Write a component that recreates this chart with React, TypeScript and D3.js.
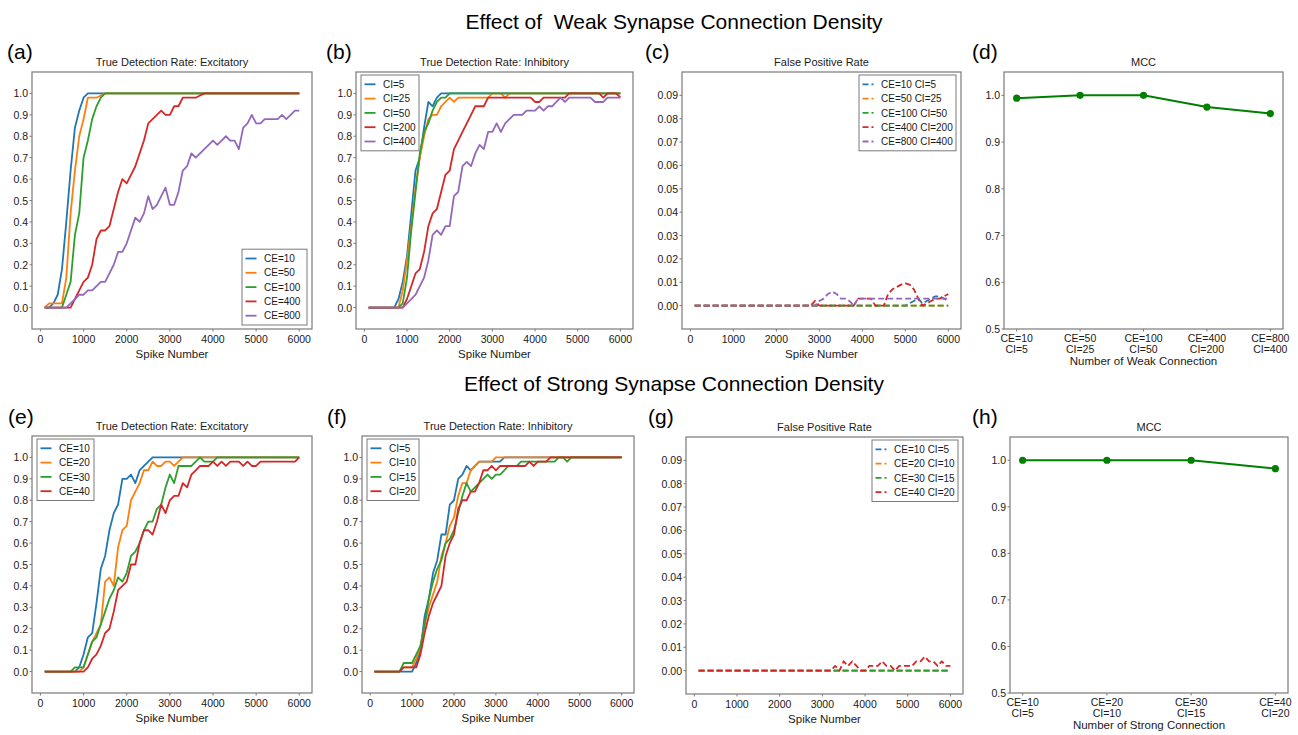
import React from "react";
import * as d3 from "d3";

// spike counts on the x axis (every 100 spikes)
const spikeNumbers = [
  100, 200, 300, 400, 500, 600, 700, 800, 900, 1000,
  1100, 1200, 1300, 1400, 1500, 1600, 1700, 1800, 1900, 2000,
  2100, 2200, 2300, 2400, 2500, 2600, 2700, 2800, 2900, 3000,
  3100, 3200, 3300, 3400, 3500, 3600, 3700, 3800, 3900, 4000,
  4100, 4200, 4300, 4400, 4500, 4600, 4700, 4800, 4900, 5000,
  5100, 5200, 5300, 5400, 5500, 5600, 5700, 5800, 5900, 6000,
];

const spikeTicks = [0, 1000, 2000, 3000, 4000, 5000, 6000];
const tdrTicks = [0, 0.1, 0.2, 0.3, 0.4, 0.5, 0.6, 0.7, 0.8, 0.9, 1.0];
const fprTicks = [0, 0.01, 0.02, 0.03, 0.04, 0.05, 0.06, 0.07, 0.08, 0.09];
const mccTicks = [0.5, 0.6, 0.7, 0.8, 0.9, 1.0];

// (a) weak, excitatory true detection rate
const weakExcCE10 = [
  0, 0, 0.02, 0.06, 0.18, 0.4, 0.64, 0.84, 0.92, 0.98,
  1, 1, 1, 1, 1, 1, 1, 1, 1, 1,
  1, 1, 1, 1, 1, 1, 1, 1, 1, 1,
  1, 1, 1, 1, 1, 1, 1, 1, 1, 1,
  1, 1, 1, 1, 1, 1, 1, 1, 1, 1,
  1, 1, 1, 1, 1, 1, 1, 1, 1, 1,
];
const weakExcCE50 = [
  0, 0.02, 0.02, 0.02, 0.02, 0.14, 0.44, 0.64, 0.8, 0.88,
  0.98, 0.98, 0.98, 0.99, 1, 1, 1, 1, 1, 1,
  1, 1, 1, 1, 1, 1, 1, 1, 1, 1,
  1, 1, 1, 1, 1, 1, 1, 1, 1, 1,
  1, 1, 1, 1, 1, 1, 1, 1, 1, 1,
  1, 1, 1, 1, 1, 1, 1, 1, 1, 1,
];
const weakExcCE100 = [
  0, 0, 0, 0, 0, 0.06, 0.12, 0.34, 0.44, 0.7,
  0.78, 0.88, 0.94, 0.98, 1, 1, 1, 1, 1, 1,
  1, 1, 1, 1, 1, 1, 1, 1, 1, 1,
  1, 1, 1, 1, 1, 1, 1, 1, 1, 1,
  1, 1, 1, 1, 1, 1, 1, 1, 1, 1,
  1, 1, 1, 1, 1, 1, 1, 1, 1, 1,
];
const weakExcCE400 = [
  0, 0, 0, 0, 0, 0, 0, 0.04, 0.08, 0.12,
  0.14, 0.2, 0.32, 0.36, 0.36, 0.38, 0.46, 0.54, 0.6, 0.58,
  0.62, 0.66, 0.72, 0.78, 0.86, 0.88, 0.9, 0.92, 0.9, 0.9,
  0.94, 0.94, 0.98, 0.98, 0.98, 0.98, 0.99, 1, 1, 1,
  1, 1, 1, 1, 1, 1, 1, 1, 1, 1,
  1, 1, 1, 1, 1, 1, 1, 1, 1, 1,
];
const weakExcCE800 = [
  0, 0, 0, 0, 0, 0, 0.02, 0.04, 0.06, 0.06,
  0.08, 0.08, 0.1, 0.12, 0.12, 0.16, 0.2, 0.26, 0.26, 0.3,
  0.36, 0.42, 0.4, 0.44, 0.52, 0.46, 0.48, 0.52, 0.56, 0.48,
  0.48, 0.54, 0.64, 0.66, 0.72, 0.7, 0.72, 0.74, 0.76, 0.78,
  0.76, 0.78, 0.8, 0.78, 0.78, 0.74, 0.84, 0.86, 0.9, 0.86,
  0.86, 0.88, 0.88, 0.88, 0.88, 0.9, 0.88, 0.9, 0.92, 0.92,
];

// (b) weak, inhibitory true detection rate
const weakInhCI5 = [
  0, 0, 0, 0, 0, 0, 0, 0.04, 0.12, 0.24,
  0.44, 0.64, 0.7, 0.84, 0.96, 0.94, 0.98, 1, 1, 1,
  1, 1, 1, 1, 1, 1, 1, 1, 1, 1,
  1, 1, 1, 1, 1, 1, 1, 1, 1, 1,
  1, 1, 1, 1, 1, 1, 1, 1, 1, 1,
  1, 1, 1, 1, 1, 1, 1, 1, 1, 1,
];
const weakInhCI25 = [
  0, 0, 0, 0, 0, 0, 0, 0, 0.08, 0.22,
  0.38, 0.56, 0.7, 0.8, 0.88, 0.9, 0.9, 0.94, 0.96, 0.98,
  0.96, 0.98, 0.98, 0.98, 0.98, 0.98, 0.98, 0.98, 0.98, 1,
  1, 1, 0.98, 1, 1, 1, 1, 1, 1, 1,
  1, 1, 1, 1, 1, 1, 1, 1, 1, 1,
  1, 1, 1, 1, 1, 1, 1, 1, 1, 1,
];
const weakInhCI50 = [
  0, 0, 0, 0, 0, 0, 0, 0, 0.02, 0.14,
  0.36, 0.54, 0.72, 0.82, 0.86, 0.92, 0.96, 0.98, 0.98, 1,
  1, 1, 1, 1, 1, 1, 1, 1, 1, 1,
  1, 1, 1, 1, 1, 1, 1, 1, 1, 1,
  1, 1, 1, 1, 1, 1, 1, 1, 1, 1,
  1, 1, 1, 1, 1, 1, 1, 1, 1, 1,
];
const weakInhCI200 = [
  0, 0, 0, 0, 0, 0, 0, 0, 0, 0.04,
  0.1, 0.16, 0.18, 0.26, 0.38, 0.44, 0.46, 0.54, 0.62, 0.64,
  0.74, 0.78, 0.82, 0.86, 0.9, 0.94, 0.94, 0.94, 0.98, 0.98,
  0.98, 0.98, 0.98, 0.98, 0.98, 0.98, 0.98, 0.98, 0.98, 0.96,
  0.96, 0.98, 0.98, 0.98, 0.98, 0.98, 0.98, 1, 1, 1,
  1, 1, 1, 1, 1, 0.98, 1, 1, 1, 0.98,
];
const weakInhCI400 = [
  0, 0, 0, 0, 0, 0, 0, 0, 0, 0.02,
  0.04, 0.06, 0.1, 0.14, 0.22, 0.34, 0.36, 0.34, 0.38, 0.38,
  0.52, 0.54, 0.66, 0.68, 0.66, 0.72, 0.76, 0.74, 0.82, 0.82,
  0.86, 0.82, 0.86, 0.88, 0.9, 0.9, 0.9, 0.92, 0.92, 0.92,
  0.94, 0.92, 0.94, 0.94, 0.96, 0.98, 0.96, 0.98, 0.98, 0.98,
  0.98, 0.98, 0.98, 0.96, 0.96, 0.96, 0.98, 0.98, 0.98, 0.98,
];

// (c) weak, false positive rate
const weakFprCE10 = [
  0, 0, 0, 0, 0, 0, 0, 0, 0, 0,
  0, 0, 0, 0, 0, 0, 0, 0, 0, 0,
  0, 0, 0, 0, 0, 0, 0, 0, 0, 0,
  0, 0, 0, 0, 0, 0, 0, 0, 0, 0,
  0, 0, 0, 0, 0, 0, 0, 0, 0, 0,
  0.001, 0.002, 0.003, 0.001, 0.002, 0.003, 0.004, 0.004, 0.003, 0.002,
];
const weakFprCE50 = [
  0, 0, 0, 0, 0, 0, 0, 0, 0, 0,
  0, 0, 0, 0, 0, 0, 0, 0, 0, 0,
  0, 0, 0, 0, 0, 0, 0, 0, 0, 0,
  0, 0, 0, 0, 0, 0, 0, 0, 0, 0,
  0, 0, 0, 0, 0, 0, 0, 0, 0, 0,
  0, 0, 0, 0, 0, 0, 0, 0, 0, 0,
];
const weakFprCE100 = [
  0, 0, 0, 0, 0, 0, 0, 0, 0, 0,
  0, 0, 0, 0, 0, 0, 0, 0, 0, 0,
  0, 0, 0, 0, 0, 0, 0, 0, 0, 0,
  0, 0, 0, 0, 0, 0, 0, 0, 0, 0,
  0, 0, 0, 0, 0, 0, 0, 0, 0, 0,
  0, 0, 0, 0, 0, 0, 0, 0, 0, 0,
];
const weakFprCE400 = [
  0, 0, 0, 0, 0, 0, 0, 0, 0, 0,
  0, 0, 0, 0, 0, 0, 0, 0, 0, 0,
  0, 0, 0, 0, 0, 0, 0, 0, 0.002, 0,
  0, 0, 0, 0, 0, 0, 0, 0, 0.003, 0.003,
  0.003, 0.003, 0, 0, 0, 0.005, 0.007, 0.008, 0.009, 0.0095,
  0.009, 0.007, 0.003, 0, 0.001, 0.002, 0.003, 0.003, 0.004, 0.005,
];
const weakFprCE800 = [
  0, 0, 0, 0, 0, 0, 0, 0, 0, 0,
  0, 0, 0, 0, 0, 0, 0, 0, 0, 0,
  0, 0, 0, 0, 0, 0, 0, 0, 0, 0.002,
  0.003, 0.005, 0.006, 0.005, 0.003, 0.003, 0.002, 0, 0.003, 0.003,
  0.003, 0.003, 0.003, 0.003, 0.003, 0.003, 0.003, 0.003, 0.003, 0.003,
  0.003, 0.003, 0.003, 0.003, 0.003, 0.003, 0.003, 0.003, 0.003, 0.003,
];

// (d) weak MCC
const weakConnLabels = [
  ["CE=10", "CI=5"],
  ["CE=50", "CI=25"],
  ["CE=100", "CI=50"],
  ["CE=400", "CI=200"],
  ["CE=800", "CI=400"],
];
const weakMcc = [0.994, 1.0, 1.0, 0.975, 0.961];

// (e) strong, excitatory true detection rate
const strongExcCE10 = [
  0, 0, 0, 0, 0, 0, 0, 0, 0.02, 0.08,
  0.16, 0.18, 0.32, 0.48, 0.54, 0.66, 0.74, 0.78, 0.9, 0.9,
  0.92, 0.88, 0.94, 0.96, 0.98, 1, 1, 1, 1, 1,
  1, 1, 1, 1, 1, 1, 1, 1, 1, 1,
  1, 1, 1, 1, 1, 1, 1, 1, 1, 1,
  1, 1, 1, 1, 1, 1, 1, 1, 1, 1,
];
const strongExcCE20 = [
  0, 0, 0, 0, 0, 0, 0, 0, 0, 0.02,
  0.08, 0.14, 0.18, 0.22, 0.42, 0.44, 0.4, 0.58, 0.66, 0.68,
  0.8, 0.84, 0.88, 0.94, 0.94, 0.98, 0.96, 0.96, 0.98, 0.98,
  0.96, 0.98, 1, 1, 1, 1, 1, 1, 1, 1,
  1, 1, 1, 1, 1, 1, 1, 1, 1, 1,
  1, 1, 1, 1, 1, 1, 1, 1, 1, 1,
];
const strongExcCE30 = [
  0, 0, 0, 0, 0, 0, 0, 0.02, 0.02, 0.02,
  0.08, 0.14, 0.16, 0.22, 0.28, 0.34, 0.38, 0.44, 0.42, 0.46,
  0.54, 0.56, 0.6, 0.66, 0.7, 0.7, 0.76, 0.78, 0.86, 0.92,
  0.88, 0.96, 0.96, 0.96, 0.96, 0.98, 1, 0.98, 0.98, 0.98,
  1, 1, 1, 1, 1, 1, 1, 1, 1, 1,
  1, 1, 1, 1, 1, 1, 1, 1, 1, 1,
];
const strongExcCE40 = [
  0, 0, 0, 0, 0, 0, 0, 0, 0, 0,
  0.02, 0.06, 0.08, 0.12, 0.18, 0.2, 0.28, 0.38, 0.4, 0.42,
  0.5, 0.5, 0.6, 0.66, 0.66, 0.64, 0.7, 0.78, 0.74, 0.8,
  0.82, 0.82, 0.88, 0.86, 0.92, 0.94, 0.96, 0.96, 0.96, 0.98,
  0.96, 0.98, 0.96, 0.98, 0.98, 0.98, 0.96, 0.98, 0.96, 0.96,
  0.98, 0.98, 0.98, 0.98, 0.98, 0.98, 0.98, 0.98, 0.98, 1,
];

// (f) strong, inhibitory true detection rate
const strongInhCI5 = [
  0, 0, 0, 0, 0, 0, 0, 0, 0, 0,
  0.04, 0.1, 0.26, 0.34, 0.46, 0.52, 0.64, 0.64, 0.78, 0.8,
  0.9, 0.92, 0.96, 0.94, 0.96, 0.98, 0.98, 0.98, 0.98, 0.98,
  0.98, 1, 1, 1, 1, 1, 1, 1, 1, 1,
  1, 1, 1, 1, 1, 1, 1, 1, 1, 1,
  1, 1, 1, 1, 1, 1, 1, 1, 1, 1,
];
const strongInhCI10 = [
  0, 0, 0, 0, 0, 0, 0, 0.02, 0.02, 0.02,
  0.06, 0.12, 0.22, 0.3, 0.36, 0.42, 0.54, 0.6, 0.68, 0.72,
  0.82, 0.88, 0.88, 0.94, 0.96, 0.98, 0.98, 0.98, 0.98, 1,
  1, 1, 1, 1, 1, 1, 1, 1, 1, 1,
  1, 1, 1, 1, 1, 1, 1, 1, 1, 1,
  1, 1, 1, 1, 1, 1, 1, 1, 1, 1,
];
const strongInhCI15 = [
  0, 0, 0, 0, 0, 0, 0, 0.04, 0.04, 0.04,
  0.08, 0.12, 0.22, 0.34, 0.42, 0.48, 0.52, 0.6, 0.62, 0.66,
  0.74, 0.82, 0.88, 0.84, 0.86, 0.88, 0.9, 0.92, 0.9, 0.92,
  0.92, 0.94, 0.96, 0.96, 0.96, 0.98, 0.98, 0.98, 0.98, 0.98,
  0.98, 0.98, 0.98, 0.98, 1, 1, 0.98, 1, 1, 1,
  1, 1, 1, 1, 1, 1, 1, 1, 1, 1,
];
const strongInhCI20 = [
  0, 0, 0, 0, 0, 0, 0, 0.02, 0.02, 0.02,
  0.02, 0.08, 0.18, 0.26, 0.32, 0.36, 0.4, 0.54, 0.6, 0.64,
  0.76, 0.8, 0.8, 0.84, 0.84, 0.88, 0.94, 0.94, 0.96, 0.94,
  0.96, 0.96, 0.96, 0.96, 0.96, 0.96, 0.96, 0.98, 0.96, 0.98,
  0.98, 0.98, 1, 1, 1, 1, 1, 1, 1, 1,
  1, 1, 1, 1, 1, 1, 1, 1, 1, 1,
];

// (g) strong, false positive rate
const strongFprZero = [
  0, 0, 0, 0, 0, 0, 0, 0, 0, 0,
  0, 0, 0, 0, 0, 0, 0, 0, 0, 0,
  0, 0, 0, 0, 0, 0, 0, 0, 0, 0,
  0, 0, 0, 0, 0, 0, 0, 0, 0, 0,
  0, 0, 0, 0, 0, 0, 0, 0, 0, 0,
  0, 0, 0, 0, 0, 0, 0, 0, 0, 0,
];
const strongFprCE40 = [
  0, 0, 0, 0, 0, 0, 0, 0, 0, 0,
  0, 0, 0, 0, 0, 0, 0, 0, 0, 0,
  0, 0, 0, 0, 0, 0, 0, 0, 0, 0,
  0, 0, 0.002, 0, 0.004, 0.002, 0.004, 0.002, 0, 0,
  0.002, 0.002, 0.002, 0.004, 0.002, 0.002, 0, 0.002, 0.002, 0.002,
  0.002, 0.004, 0.004, 0.006, 0.004, 0.004, 0.002, 0.004, 0.002, 0.002,
];

// (h) strong MCC
const strongConnLabels = [
  ["CE=10", "CI=5"],
  ["CE=20", "CI=10"],
  ["CE=30", "CI=15"],
  ["CE=40", "CI=20"],
];
const strongMcc = [1.0, 1.0, 1.0, 0.982];

const colors = ["#1f77b4", "#ff7f0e", "#2ca02c", "#d62728", "#9467bd"];
const FONT = "'Liberation Sans', Arial, Helvetica, sans-serif";
const FRAME = "#7a7a7a";
const TEXT = "#1a1a1a";

const spikePanels = [
  {
    tag: "(a)", tagX: 7, tagY: 59, title: "True Detection Rate: Excitatory", kind: "tdr",
    box: [32, 72, 312, 329], legend: { corner: "lr", width: 65 },
    series: [
      { label: "CE=10", values: weakExcCE10 },
      { label: "CE=50", values: weakExcCE50 },
      { label: "CE=100", values: weakExcCE100 },
      { label: "CE=400", values: weakExcCE400 },
      { label: "CE=800", values: weakExcCE800 },
    ],
  },
  {
    tag: "(b)", tagX: 326, tagY: 59, title: "True Detection Rate: Inhibitory", kind: "tdr",
    box: [356, 72, 633, 329], legend: { corner: "ul", width: 58 },
    series: [
      { label: "CI=5", values: weakInhCI5 },
      { label: "CI=25", values: weakInhCI25 },
      { label: "CI=50", values: weakInhCI50 },
      { label: "CI=200", values: weakInhCI200 },
      { label: "CI=400", values: weakInhCI400 },
    ],
  },
  {
    tag: "(c)", tagX: 645, tagY: 59, title: "False Positive Rate", kind: "fpr",
    box: [682, 72, 961, 329], legend: { corner: "ur", width: 97 },
    series: [
      { label: "CE=10 CI=5", values: weakFprCE10 },
      { label: "CE=50 CI=25", values: weakFprCE50 },
      { label: "CE=100 CI=50", values: weakFprCE100 },
      { label: "CE=400 CI=200", values: weakFprCE400 },
      { label: "CE=800 CI=400", values: weakFprCE800 },
    ],
  },
  {
    tag: "(e)", tagX: 8, tagY: 424, title: "True Detection Rate: Excitatory", kind: "tdr",
    box: [32, 436, 312, 693], legend: { corner: "ul", width: 57 },
    series: [
      { label: "CE=10", values: strongExcCE10 },
      { label: "CE=20", values: strongExcCE20 },
      { label: "CE=30", values: strongExcCE30 },
      { label: "CE=40", values: strongExcCE40 },
    ],
  },
  {
    tag: "(f)", tagX: 327, tagY: 424, title: "True Detection Rate: Inhibitory", kind: "tdr",
    box: [362, 436, 634, 693], legend: { corner: "ul", width: 52 },
    series: [
      { label: "CI=5", values: strongInhCI5 },
      { label: "CI=10", values: strongInhCI10 },
      { label: "CI=15", values: strongInhCI15 },
      { label: "CI=20", values: strongInhCI20 },
    ],
  },
  {
    tag: "(g)", tagX: 648, tagY: 424, title: "False Positive Rate", kind: "fpr",
    box: [686, 437, 963, 694], legend: { corner: "ur", width: 86 },
    series: [
      { label: "CE=10 CI=5", values: strongFprZero },
      { label: "CE=20 CI=10", values: strongFprZero },
      { label: "CE=30 CI=15", values: strongFprZero },
      { label: "CE=40 CI=20", values: strongFprCE40 },
    ],
  },
];

const mccPanels = [
  {
    tag: "(d)", tagX: 972, tagY: 59, box: [1004, 72, 1283, 329],
    labels: weakConnLabels, values: weakMcc, xLabel: "Number of Weak Connection",
  },
  {
    tag: "(h)", tagX: 972, tagY: 424, box: [1010, 437, 1288, 693],
    labels: strongConnLabels, values: strongMcc, xLabel: "Number of Strong Connection",
  },
];

function Legend({ series, corner, width, box, dashed }) {
  const [l, t, r, b] = box;
  const n = series.length;
  const h = 18.6 + (n - 1) * 14.3;
  const lx = corner === "ul" ? l + 5 : r - 5 - width;
  const ly = corner === "lr" ? b - 4 - h : t + 3;
  return (
    <g>
      <rect x={lx} y={ly} width={width} height={h} fill="#fff" stroke={FRAME} strokeWidth={1} />
      {series.map((s, i) => {
        const cy = ly + 9.3 + i * 14.3;
        return (
          <g key={s.label}>
            <line
              x1={lx + 3.5} x2={lx + 14.5} y1={cy} y2={cy}
              stroke={colors[i]} strokeWidth={1.8}
              strokeDasharray={dashed ? "6,3" : undefined}
            />
            <text x={lx + 22} y={cy + 3.6} fontSize={10} fill={TEXT}>{s.label}</text>
          </g>
        );
      })}
    </g>
  );
}

function SpikePanel({ p }) {
  const [l, t, r, b] = p.box;
  const x = d3.scaleLinear().domain([-195, 6295]).range([l, r]);
  const isTdr = p.kind === "tdr";
  const y = d3.scaleLinear().domain(isTdr ? [-0.1, 1.1] : [-0.01, 0.1]).range([b, t]);
  const yTicks = isTdr ? tdrTicks : fprTicks;
  const fmt = d3.format(isTdr ? ".1f" : ".2f");
  const line = d3
    .line<number>()
    .x((_, i) => x(spikeNumbers[i]))
    .y((v) => y(v));

  return (
    <g>
      <text x={p.tagX} y={p.tagY} fontSize={21} fill="#000">{p.tag}</text>
      <text x={(l + r) / 2} y={t - 6} fontSize={11} textAnchor="middle" fill={TEXT}>{p.title}</text>
      {p.series.map((s, i) => (
        <path
          key={s.label}
          d={line(s.values) || ""}
          fill="none"
          stroke={colors[i]}
          strokeWidth={1.8}
          strokeLinejoin="round"
          strokeDasharray={isTdr ? undefined : "6,3"}
        />
      ))}
      <rect x={l} y={t} width={r - l} height={b - t} fill="none" stroke={FRAME} strokeWidth={1.2} />
      {yTicks.map((v) => (
        <g key={v}>
          <line x1={l - 2.5} x2={l} y1={y(v)} y2={y(v)} stroke={FRAME} />
          <text x={l - 4} y={y(v) + 4} fontSize={10.5} textAnchor="end" fill={TEXT}>{fmt(v)}</text>
        </g>
      ))}
      {spikeTicks.map((v) => (
        <g key={v}>
          <line x1={x(v)} x2={x(v)} y1={b} y2={b + 2.5} stroke={FRAME} />
          <text x={x(v)} y={b + 14} fontSize={10.5} textAnchor="middle" fill={TEXT}>{v}</text>
        </g>
      ))}
      <text x={(l + r) / 2} y={b + 29} fontSize={11.5} textAnchor="middle" fill={TEXT}>Spike Number</text>
      <Legend series={p.series} corner={p.legend.corner} width={p.legend.width} box={p.box} dashed={!isTdr} />
    </g>
  );
}

function MccPanel({ p }) {
  const [l, t, r, b] = p.box;
  const n = p.values.length;
  const m = 0.05 * (n - 1);
  const x = d3.scaleLinear().domain([-m, n - 1 + m]).range([l, r]);
  const y = d3.scaleLinear().domain([0.5, 1.05]).range([b, t]);
  const line = d3
    .line<number>()
    .x((_, i) => x(i))
    .y((v) => y(v));

  return (
    <g>
      <text x={p.tagX} y={p.tagY} fontSize={21} fill="#000">{p.tag}</text>
      <text x={(l + r) / 2} y={t - 6} fontSize={11} textAnchor="middle" fill={TEXT}>MCC</text>
      <path d={line(p.values) || ""} fill="none" stroke="#008000" strokeWidth={2} />
      {p.values.map((v, i) => (
        <circle key={i} cx={x(i)} cy={y(v)} r={3.6} fill="#008000" />
      ))}
      <rect x={l} y={t} width={r - l} height={b - t} fill="none" stroke={FRAME} strokeWidth={1.2} />
      {mccTicks.map((v) => (
        <g key={v}>
          <line x1={l - 2.5} x2={l} y1={y(v)} y2={y(v)} stroke={FRAME} />
          <text x={l - 4} y={y(v) + 4} fontSize={10.5} textAnchor="end" fill={TEXT}>{d3.format(".1f")(v)}</text>
        </g>
      ))}
      {p.labels.map((lab, i) => (
        <g key={i}>
          <line x1={x(i)} x2={x(i)} y1={b} y2={b + 2.5} stroke={FRAME} />
          <text x={x(i)} y={b + 12.5} fontSize={10.5} textAnchor="middle" fill={TEXT}>{lab[0]}</text>
          <text x={x(i)} y={b + 24} fontSize={10.5} textAnchor="middle" fill={TEXT}>{lab[1]}</text>
        </g>
      ))}
      <text x={(l + r) / 2} y={b + 36} fontSize={11.5} textAnchor="middle" fill={TEXT}>{p.xLabel}</text>
    </g>
  );
}

export default function App() {
  return (
    <svg
      width={1298}
      height={735}
      style={{ position: "absolute", left: 0, top: 0, background: "#fff" }}
      fontFamily={FONT}
    >
      <rect width={1298} height={735} fill="#fff" />
      <text x={674} y={29} fontSize={21} textAnchor="middle" fill="#000" style={{ whiteSpace: "pre" }}>
        {"Effect of  Weak Synapse Connection Density"}
      </text>
      <text x={674} y={391} fontSize={21} textAnchor="middle" fill="#000">
        Effect of Strong Synapse Connection Density
      </text>
      {spikePanels.map((p) => (
        <SpikePanel key={p.tag} p={p} />
      ))}
      {mccPanels.map((p) => (
        <MccPanel key={p.tag} p={p} />
      ))}
    </svg>
  );
}
